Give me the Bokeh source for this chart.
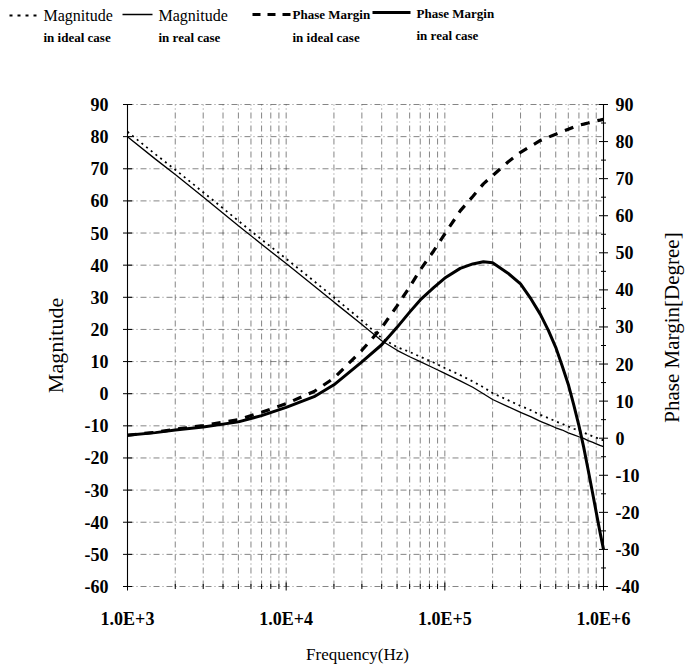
import math
from bokeh.plotting import figure
from bokeh.models import Range1d
from bokeh.embed import file_html
from bokeh.resources import INLINE
from bokeh.core.properties import value

# ---------------- data ----------------
freq = [1e3, 1.5e3, 2e3, 3e3, 5e3, 7e3, 1e4, 1.5e4, 2e4, 3e4, 4e4, 5e4,
        6e4, 7e4, 8.5e4, 1e5, 1.25e5, 1.5e5, 1.75e5, 2e5,
        2.5e5, 3e5, 3.5e5, 4e5, 4.5e5, 5e5,
        5.5e5, 6e5, 6.5e5, 7e5, 7.5e5, 8e5, 8.5e5, 9e5, 9.5e5, 1e6]

mag_ideal = [81.5, 74.5, 69.7, 62.7, 53.8, 48.0, 42.0, 35.0, 30.0, 22.8, 17.3, 14.5,
             13.0, 11.5, 9.7, 8.0, 5.8, 3.8, 2.0, 0.2,
             -2.0, -3.8, -5.2, -6.6, -7.6, -8.6,
             -9.4, -10.2, -10.9, -11.5, -12.1, -12.7, -13.2, -13.7, -14.1, -14.5]

mag_real = [80.0, 73.0, 68.2, 61.2, 52.3, 46.5, 40.5, 33.5, 28.5, 21.5, 16.5, 13.5,
            11.5, 10.0, 8.0, 6.3, 4.0, 2.0, 0.0, -1.8,
            -4.0, -5.8, -7.2, -8.6, -9.6, -10.6,
            -11.3, -12.2, -12.8, -13.4, -13.9, -14.6, -15.1, -15.6, -16.1, -16.5]

pm_ideal = [0.8, 1.6, 2.4, 3.4, 5.0, 7.0, 9.3, 12.6, 16.2, 23.7, 29.8, 35.7,
            40.8, 45.4, 50.5, 55.1, 61.3, 65.2, 68.6, 70.8,
            74.5, 77.1, 78.8, 80.3, 81.2, 82.0,
            82.7, 83.3, 83.9, 84.4, 84.7, 85.0, 85.3, 85.6, 85.8, 86.0]

pm_real = [0.8, 1.5, 2.2, 3.0, 4.4, 6.1, 8.3, 11.2, 14.4, 20.6, 25.2, 29.9,
           34.0, 37.3, 40.6, 43.2, 45.8, 47.0, 47.6, 47.3,
           44.5, 41.6, 37.5, 33.4, 29.0, 24.5,
           19.4, 14.5, 8.9, 3.4, -2.4, -8.5, -14.4, -20.0, -25.3, -30.0]

x_major = [1e3, 1e4, 1e5, 1e6]
x_major_labels = ["1.0E+3", "1.0E+4", "1.0E+5", "1.0E+6"]
x_minor = [m * d for d in (1e3, 1e4, 1e5) for m in range(2, 10)]
mag_ticks = list(range(-60, 91, 10))
pm_ticks = list(range(-40, 91, 10))
pm_minor = list(range(-35, 90, 10))

legend_labels_top = ["Magnitude", "Magnitude", "Phase Margin", "Phase Margin"]
legend_labels_bottom = ["in ideal case", "in real case", "in ideal case", "in real case"]

x_title = "Frequency(Hz)"
y_title = "Magnitude"
y2_title = "Phase Margin[Degree]"

# ---------------- page geometry (pixels) ----------------
SERIF = value("Liberation Serif")
W, H = 689, 668
PL, PR, PT, PB = 127, 603, 104, 586          # plot area on the page
XMIN, XMAX = 1e3, 1e6
YMIN, YMAX = -60, 90
Y2MIN, Y2MAX = -40, 90
DEC = (PR - PL) / math.log10(XMAX / XMIN)


def fx(px):
    return 10 ** (math.log10(XMIN) + (px - PL) / DEC)


def fy(py):
    return YMAX - (py - PT) * (YMAX - YMIN) / (PB - PT)


def fy2(py):
    return Y2MAX - (py - PT) * (Y2MAX - Y2MIN) / (PB - PT)


p = figure(width=W, height=H, x_axis_type="log",
           x_axis_location=None, y_axis_location=None,
           x_range=Range1d(fx(0), fx(W)), y_range=Range1d(fy(H), fy(0)),
           output_backend="svg", toolbar_location=None, min_border=0)
p.outline_line_color = None
p.background_fill_color = "white"
p.xgrid.grid_line_color = None
p.ygrid.grid_line_color = None
p.extra_y_ranges = {"pm": Range1d(fy2(H), fy2(0))}

GRID = dict(line_color="#333333", line_width=0.8, line_alpha=0.75, line_dash="6 3 1 3")

# grid lines (inside the plot area only)
p.segment(x0=[XMIN] * len(mag_ticks), x1=[XMAX] * len(mag_ticks),
          y0=mag_ticks, y1=mag_ticks, **GRID)
xg = x_major[1:-1] + x_minor
p.segment(x0=xg, x1=xg, y0=[YMIN] * len(xg), y1=[YMAX] * len(xg), **GRID)

# axis lines
p.segment(x0=[XMIN, XMAX], x1=[XMIN, XMAX], y0=[YMIN, YMIN], y1=[YMAX, YMAX],
          line_color="black", line_width=1.1)

# tick marks
p.scatter(x=[XMIN] * len(mag_ticks), y=mag_ticks, marker="dash", size=9,
          line_color="black", line_width=1)
p.scatter(x=[XMAX] * len(pm_ticks), y=pm_ticks, y_range_name="pm", marker="dash",
          size=9, line_color="black", line_width=1)
p.scatter(x=[XMAX] * len(pm_minor), y=pm_minor, y_range_name="pm", marker="dash",
          size=5, line_color="black", line_width=1)
p.scatter(x=x_major, y=[YMIN] * len(x_major), marker="dash", angle=math.pi / 2,
          size=8, line_color="black", line_width=1)
p.scatter(x=x_minor, y=[YMIN] * len(x_minor), marker="dash", angle=math.pi / 2,
          size=5, line_color="black", line_width=1)

# tick labels
TICK = dict(text_font=SERIF, text_font_size="18px", text_font_style="bold",
            text_color="black", text_baseline="middle")
p.text(x=[XMIN] * len(mag_ticks), y=mag_ticks, text=[str(t) for t in mag_ticks],
       x_offset=-19, text_align="right", **TICK)
p.text(x=[XMAX] * len(pm_ticks), y=pm_ticks, y_range_name="pm",
       text=[str(t) for t in pm_ticks], x_offset=12, text_align="left", **TICK)
p.text(x=x_major, y=[YMIN] * len(x_major), text=x_major_labels, y_offset=32,
       text_align="center", **TICK)

# axis titles
TITLE = dict(text_font=SERIF, text_color="black",
             text_baseline="middle", text_align="center")
p.text(x=[XMIN], y=[fy(345)], text=[y_title], x_offset=-72, angle=math.pi / 2,
       text_font_size="22px", **TITLE)
p.text(x=[XMAX], y=[fy(327)], text=[y2_title], x_offset=68, angle=math.pi / 2,
       text_font_size="21px", **TITLE)
p.text(x=[fx(357)], y=[YMIN], text=[x_title], y_offset=68, text_font_size="17px", **TITLE)

# curves
p.line(freq, mag_ideal, line_color="black", line_width=1.8, line_dash="2 4")
p.line(freq, mag_real, line_color="black", line_width=1.3)
p.line(freq, pm_ideal, y_range_name="pm", line_color="black", line_width=3.2,
       line_dash="9 8")
p.line(freq, pm_real, y_range_name="pm", line_color="black", line_width=3.0,
       line_join="round")

# legend strip above the plot
p.line([fx(9), fx(40)], [fy(15)] * 2, line_color="black", line_width=2.0, line_dash="3 5")
p.line([fx(122), fx(152)], [fy(14)] * 2, line_color="black", line_width=1.3)
p.line([fx(252), fx(290)], [fy(14)] * 2, line_color="black", line_width=3.2, line_dash="8 7")
p.line([fx(372), fx(410)], [fy(12)] * 2, line_color="black", line_width=3.0)

tx = [43, 158, 292, 416]
ty_top = [15, 15, 14, 13]
ty_bot = [37, 37, 37, 35]
sizes_top = ["16px", "16px", "13px", "13px"]
styles_top = ["normal", "normal", "bold", "bold"]
for i in range(4):
    p.text(x=[fx(tx[i])], y=[fy(ty_top[i])], text=[legend_labels_top[i]],
           text_font=SERIF, text_font_size=sizes_top[i], text_font_style=styles_top[i],
           text_baseline="middle", text_align="left", text_color="black")
    p.text(x=[fx(tx[i])], y=[fy(ty_bot[i])], text=[legend_labels_bottom[i]],
           text_font=SERIF, text_font_size="13px", text_font_style="bold",
           text_baseline="middle", text_align="left", text_color="black")

open("out.html", "w").write(file_html(p, INLINE))
